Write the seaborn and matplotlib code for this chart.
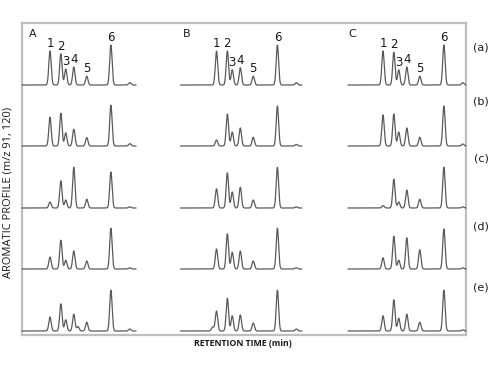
import numpy as np
import pandas as pd
import matplotlib
matplotlib.use("Agg")
import matplotlib.pyplot as plt
import seaborn as sns

# ---------------- data ----------------
columns = ["A", "B", "C"]
rows = ["(a)", "(b)", "(c)", "(d)", "(e)"]
peak_labels = ["1", "2", "3", "4", "5", "6"]
# retention times (min) of peaks 1-6 and the late minor bump
retention_times = [8.0, 11.1, 12.5, 14.8, 18.5, 25.4, 30.8]

# relative peak heights (% of peak 6 in row (a)), one list per row
heights_A = [
    [85, 78, 40, 45, 22, 100, 6],
    [72, 82, 33, 42, 21, 102, 6],
    [15, 68, 20, 102, 22, 90, 3],
    [30, 72, 22, 45, 20, 102, 3],
    [35, 68, 28, 42, 22, 102, 5],
]
heights_B = [
    [85, 85, 38, 43, 22, 100, 6],
    [15, 80, 35, 45, 22, 100, 4],
    [48, 88, 40, 52, 20, 102, 3],
    [50, 88, 42, 45, 20, 102, 3],
    [50, 82, 38, 40, 20, 102, 5],
]
heights_C = [
    [85, 82, 38, 45, 22, 100, 6],
    [78, 80, 35, 45, 22, 100, 5],
    [6, 72, 15, 45, 22, 102, 3],
    [28, 82, 22, 78, 48, 100, 3],
    [38, 78, 32, 42, 22, 102, 3],
]
# minor extra peaks: (column, row index, retention time, height)
extra_cols = ["A", "B"]
extra_rows = [4, 4]
extra_rt = [16.0, 6.9]
extra_h = [11, 10]

# time window recorded in each column
time_start = [0.0, -2.3, -2.0]
time_end = [32.6, 32.4, 31.7]

# ---------------- layout ----------------
sns.set_style("white")
plt.rcParams["font.family"] = ["DejaVu Sans"]

W, H = 500, 375
fig = plt.figure(figsize=(5, 3.75), dpi=100)

px_per_min = 3.5
col_origin = [22, 188.5, 355]
baselines = [85, 146, 208, 269, 331]
row_label_y = [47, 102, 159, 227, 287]
units_per_px = 2.5
ymin, ymax = -1.0, 114.0
LINE = "#5a5a5a"
sigma = 0.34
TXT = "#1a1a1a"

# outer frame
frame = fig.add_axes([22 / W, 1 - 335 / H, (466 - 22) / W, (335 - 23) / H])
frame.set_xticks([])
frame.set_yticks([])
frame.set_facecolor("none")
for s in frame.spines.values():
    s.set_color("#bfbfbf")
    s.set_linewidth(1.6)
frame.set_zorder(0)

all_heights = {"A": heights_A, "B": heights_B, "C": heights_C}

for ci, col in enumerate(columns):
    t0, t1 = time_start[ci], time_end[ci]
    t = np.linspace(t0, t1, 1600)
    for ri, row in enumerate(rows):
        hts = all_heights[col][ri]
        y = np.zeros_like(t)
        for rt, h in zip(retention_times, hts):
            y += h * np.exp(-0.5 * ((t - rt) / sigma) ** 2)
        for ec, er, ert, eh in zip(extra_cols, extra_rows, extra_rt, extra_h):
            if ec == col and er == ri:
                y += eh * np.exp(-0.5 * ((t - ert) / sigma) ** 2)
        left_px = col_origin[ci] + t0 * px_per_min
        width_px = (t1 - t0) * px_per_min
        h_px = (ymax - ymin) / units_per_px
        bottom_px = baselines[ri] - ymin / units_per_px
        ax = fig.add_axes([left_px / W, 1 - bottom_px / H, width_px / W, h_px / H])
        df = pd.DataFrame({"time": t, "signal": y})
        sns.lineplot(data=df, x="time", y="signal", ax=ax, color=LINE,
                     linewidth=0.9, estimator=None, sort=False)
        ax.set_xlim(t0, t1)
        ax.set_ylim(ymin, ymax)
        ax.axis("off")
        ax.patch.set_alpha(0)
        for line in ax.get_lines():
            line.set_clip_on(False)
        if ri == 0:
            for lab, rt, h in zip(peak_labels, retention_times, hts):
                ax.annotate(lab, xy=(rt, h), xytext=(0, 0.8), textcoords="offset points",
                            ha="center", va="bottom", fontsize=8.5, color=TXT)

# column letters
for ci, col in enumerate(columns):
    xpos = [33, 187, 352][ci]
    fig.text(xpos / W, 1 - 34 / H, col, ha="center", va="center",
             fontsize=8, color=TXT)

# row labels
for ri, row in enumerate(rows):
    fig.text(481 / W, 1 - row_label_y[ri] / H, row, ha="center", va="center",
             fontsize=8, color=TXT)

fig.text(243 / W, 1 - 343 / H, "RETENTION TIME (min)", ha="center", va="center",
         fontsize=6.3, fontweight="bold", color=TXT, family="Open Sans")
fig.text(8 / W, 1 - 192 / H, "AROMATIC PROFILE (m/z 91, 120)", ha="center",
         va="center", rotation=90, fontsize=8, color=TXT, family="Open Sans")

fig.savefig("out.png", dpi=100)
